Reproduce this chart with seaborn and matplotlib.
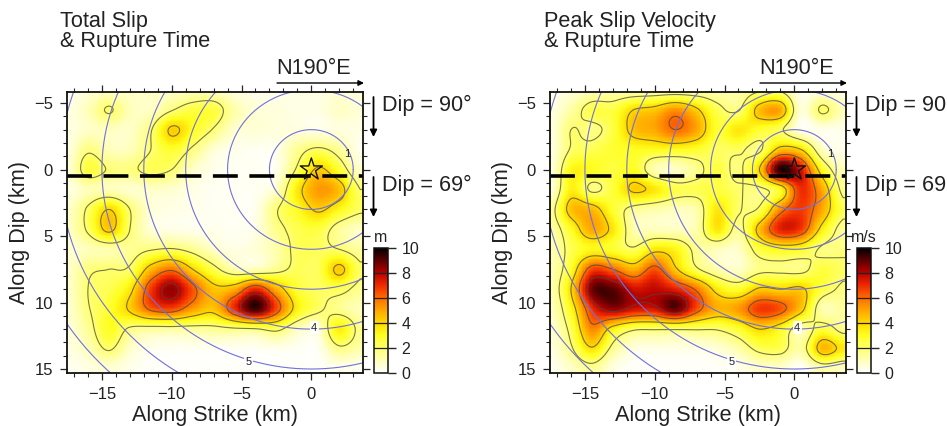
import numpy as np
import matplotlib
matplotlib.use('Agg')
import matplotlib.pyplot as plt
import seaborn as sns

# grid knots (km)
strike_km = [-17.5, -16, -14.5, -13, -11.5, -10, -8.5, -7, -5.5, -4, -2.5, -1, 0.5, 2, 3.5]
dip_km = [-6, -4.5, -3, -1.5, 0, 1.5, 3, 4.5, 6, 7.5, 9, 10.5, 12, 13.5, 15]

total_slip = [
    [0.3, 0.6, 0.8, 0.8, 0.8, 0.8, 0.9, 1.0, 0.5, 0.3, 0.3, 0.4, 0.4, 0.6, 0.5],
    [0.4, 1.0, 2.1, 1.0, 0.9, 1.9, 2.6, 2.6, 1.2, 0.6, 0.5, 0.4, 0.4, 0.8, 0.6],
    [0.4, 0.8, 0.9, 0.8, 1.9, 4.2, 3.0, 1.9, 0.7, 0.6, 0.5, 0.5, 0.4, 0.5, 0.4],
    [0.4, 1.8, 1.0, 1.0, 2.0, 2.8, 1.8, 0.6, 0.3, 0.2, 0.3, 1.5, 2.2, 1.5, 0.3],
    [0.5, 2.6, 1.9, 1.8, 2.3, 2.0, 0.8, 0.3, 0.2, 0.2, 0.3, 2.2, 4.2, 2.8, 0.8],
    [0.4, 1.0, 1.0, 0.7, 0.8, 0.7, 0.4, 0.2, 0.2, 0.2, 0.8, 3.5, 5.2, 4.6, 2.0],
    [0.7, 2.2, 4.0, 2.0, 0.6, 0.4, 0.3, 0.2, 0.2, 0.3, 1.9, 3.0, 4.2, 3.2, 2.2],
    [0.8, 2.2, 4.3, 2.0, 0.6, 0.4, 0.3, 0.3, 0.2, 0.4, 1.6, 2.4, 2.6, 1.5, 0.8],
    [0.6, 1.0, 1.2, 1.5, 1.9, 2.1, 1.6, 0.8, 0.4, 0.6, 1.2, 2.3, 2.3, 2.0, 1.4],
    [0.7, 1.8, 2.0, 2.2, 4.6, 5.8, 4.0, 2.4, 1.2, 1.0, 1.6, 2.3, 2.3, 4.3, 2.2],
    [0.7, 2.0, 2.4, 3.6, 6.8, 8.4, 6.4, 4.4, 4.8, 7.0, 4.8, 2.8, 2.2, 2.4, 1.6],
    [0.6, 1.9, 2.8, 4.2, 6.2, 6.6, 5.2, 4.4, 7.0, 9.4, 6.6, 3.4, 2.2, 1.6, 1.0],
    [0.5, 1.5, 3.0, 1.8, 1.5, 1.5, 1.5, 1.6, 1.8, 1.9, 2.3, 1.0, 0.7, 3.4, 1.6],
    [0.4, 1.0, 2.1, 0.8, 0.3, 0.2, 0.2, 0.2, 0.2, 0.2, 0.3, 0.2, 0.2, 1.7, 1.2],
    [0.2, 0.4, 0.6, 0.3, 0.1, 0.1, 0.1, 0.1, 0.1, 0.1, 0.1, 0.1, 0.1, 0.3, 0.2],
]

peak_velocity = [
    [0.3, 0.6, 1.0, 1.1, 1.1, 1.2, 1.2, 1.2, 1.1, 1.2, 1.8, 1.8, 0.3, 0.4, 0.4],
    [0.4, 1.3, 2.5, 2.6, 4.0, 4.4, 5.4, 4.2, 2.4, 1.9, 4.5, 5.0, 0.6, 2.2, 1.0],
    [0.4, 2.0, 1.7, 2.6, 4.5, 5.0, 6.0, 5.0, 2.8, 3.6, 2.8, 2.2, 0.4, 0.3, 0.3],
    [0.4, 2.1, 2.4, 2.8, 3.0, 3.0, 3.0, 2.8, 2.2, 2.2, 1.8, 4.5, 4.0, 1.0, 0.3],
    [0.4, 3.2, 3.0, 2.6, 3.0, 1.1, 0.8, 1.6, 2.6, 1.8, 4.0, 9.6, 7.6, 3.2, 1.0],
    [0.5, 3.4, 1.8, 2.7, 4.2, 3.6, 2.5, 2.4, 2.6, 2.1, 1.8, 3.0, 7.0, 5.0, 1.6],
    [1.4, 4.5, 4.6, 2.8, 1.6, 1.2, 1.0, 1.2, 3.6, 2.1, 2.2, 5.5, 6.8, 5.0, 2.4],
    [1.2, 3.0, 5.0, 3.6, 1.2, 1.0, 0.9, 1.2, 3.6, 1.6, 4.5, 7.2, 6.8, 3.5, 1.5],
    [1.0, 2.4, 3.2, 2.8, 2.2, 3.6, 3.2, 1.6, 1.0, 0.8, 2.6, 3.2, 3.0, 1.8, 1.8],
    [1.0, 3.0, 6.6, 6.0, 4.8, 6.4, 4.2, 2.2, 1.2, 0.8, 1.7, 1.8, 1.7, 2.6, 2.2],
    [1.0, 4.0, 8.8, 9.0, 7.6, 7.8, 7.2, 5.8, 3.5, 2.8, 4.2, 4.0, 4.2, 2.6, 1.8],
    [0.8, 3.2, 7.0, 8.4, 7.6, 7.6, 9.0, 6.5, 4.8, 5.2, 6.8, 6.4, 4.4, 1.2, 1.4],
    [0.6, 2.4, 5.6, 3.4, 2.2, 2.1, 2.1, 2.1, 2.1, 2.8, 4.0, 3.2, 1.2, 2.6, 1.6],
    [0.4, 1.8, 3.8, 1.6, 0.5, 0.4, 0.4, 0.4, 0.6, 1.2, 2.3, 2.4, 1.4, 4.6, 3.6],
    [0.2, 0.8, 1.5, 0.4, 0.1, 0.1, 0.1, 0.1, 0.1, 0.3, 0.7, 0.7, 0.1, 1.2, 0.9],
]

# rupture front: time (s) and radius around the hypocentre (km)
rupture_time = [1, 2, 3, 4, 5, 6, 7]
rupture_radius = [3, 6, 9, 12, 15, 18, 21]
labelled_fronts = {1: (2.6, -1.2), 4: (0.2, 11.9), 5: (-4.5, 14.5)}

hypocentre = (0, 0)
dip_change_km = 0.5
color_ticks = [0, 2, 4, 6, 8, 10]
contour_levels = [2, 4, 6, 8]
heat_colors = ['#ffffff', '#ffffb8', '#ffff70', '#ffff20', '#ffd800', '#ffa800',
               '#ff6c00', '#f02c00', '#b80000', '#600000', '#000000']

W, H = 947, 426
xlim = (-17.5, 3.7)
ylim = (15.3, -5.83)

sns.set_theme(style='ticks')
plt.rcParams['font.family'] = ['Liberation Sans', 'DejaVu Sans']
plt.rcParams['text.color'] = '#222222'
plt.rcParams['axes.labelcolor'] = '#222222'
plt.rcParams['xtick.labelcolor'] = '#222222'
plt.rcParams['ytick.labelcolor'] = '#222222'
plt.rcParams['axes.unicode_minus'] = True

heat_cmap = sns.blend_palette(heat_colors, as_cmap=True)


def cubic_axis0(vals, pos):
    # Catmull-Rom along the first axis, only so the surface shades smoothly
    n = vals.shape[0]
    i = np.clip(np.floor(pos).astype(int), 0, n - 2)
    t = (pos - i)[:, None]
    p0, p1 = vals[np.maximum(i - 1, 0)], vals[i]
    p2, p3 = vals[i + 1], vals[np.minimum(i + 2, n - 1)]
    return 0.5 * (2 * p1 + (p2 - p0) * t + (2 * p0 - 5 * p1 + 4 * p2 - p3) * t ** 2
                  + (3 * p1 - p0 - 3 * p2 + p3) * t ** 3)


def shade_surface(grid, fx, fy):
    vals = np.array(grid, dtype=float)
    px = np.interp(fx, strike_km, np.arange(len(strike_km)))
    py = np.interp(fy, dip_km, np.arange(len(dip_km)))
    out = cubic_axis0(vals, py)
    out = cubic_axis0(out.T, px).T
    return np.clip(out, 0, 10)


def px_axes(fig, left, top, right, bottom):
    return fig.add_axes([left / W, 1 - bottom / H, (right - left) / W, (bottom - top) / H])


def down_arrow(fig, x, y0, y1):
    fig.add_artist(matplotlib.patches.FancyArrowPatch(
        (x / W, 1 - y0 / H), (x / W, 1 - y1 / H), transform=fig.transFigure,
        arrowstyle='-|>', mutation_scale=10, lw=1.3, color='black', shrinkA=0, shrinkB=0))


def draw_panel(fig, grid, title, unit, left, right, title_x, cbar_left):
    top, bottom = 92, 373
    ax_map = px_axes(fig, left, top, right, bottom)
    cax = px_axes(fig, cbar_left, 248, cbar_left + 13.5, bottom)

    # fine grid centres, same extent as the axes
    fx = np.linspace(xlim[0], xlim[1], 213)
    fy = np.linspace(ylim[1], ylim[0], 212)
    surface = shade_surface(grid, fx, fy)
    sns.heatmap(surface, ax=ax_map, cmap=heat_cmap, vmin=0, vmax=10, cbar_ax=cax,
                xticklabels=False, yticklabels=False, cbar_kws={'ticks': color_ticks})
    ax_map.tick_params(left=False, bottom=False)

    cax.tick_params(length=6, width=1, labelsize=11.5, pad=4)
    for level in contour_levels:
        cax.axhline(level, color='#222222', lw=0.9)
    cbar = ax_map.collections[0].colorbar
    cbar.outline.set_visible(True)
    cbar.outline.set_edgecolor('#111111')
    cbar.outline.set_linewidth(1.1)
    fig.text((cbar_left + 6.5) / W, 1 - 237 / H, unit, fontsize=11.5, va='center', ha='center')

    # overlay with the real km axes
    ax = px_axes(fig, left, top, right, bottom)
    ax.patch.set_alpha(0)
    ax.contour(fx, fy, surface, levels=contour_levels, colors='#4a4a3a', linewidths=0.8, alpha=0.75)

    angle = np.deg2rad(np.arange(0, 361, 2))
    for t, r in zip(rupture_time, rupture_radius):
        sns.lineplot(x=hypocentre[0] + r * np.cos(angle), y=hypocentre[1] + r * np.sin(angle),
                     sort=False, estimator=None, color='#7070e0', lw=0.8, ax=ax)
        if t in labelled_fronts:
            lx, ly = labelled_fronts[t]
            ax.text(lx, ly, str(t), fontsize=8, ha='center', va='center',
                    bbox=dict(fc='white', ec='none', pad=1, alpha=0.9 if t != 1 else 0))

    ax.axhline(dip_change_km, color='black', lw=2.6, dashes=(6.9, 3.2), dash_capstyle='butt')
    sns.scatterplot(x=[hypocentre[0]], y=[hypocentre[1]], marker='*', s=280,
                    facecolor='none', edgecolor='#111111', linewidth=1.0, ax=ax, legend=False, zorder=5)

    ax.set_xlim(*xlim)
    ax.set_ylim(*ylim)
    ax.set_xticks([-15, -10, -5, 0])
    ax.set_yticks([-5, 0, 5, 10, 15])
    ax.set_xticks(np.arange(-17, 4), minor=True)
    ax.set_yticks(np.arange(-5, 16), minor=True)
    ax.tick_params(which='major', length=5, width=0.9, labelsize=12, top=True, right=True, pad=5)
    ax.tick_params(which='minor', length=3, width=0.8, top=True, right=True)
    for spine in ax.spines.values():
        spine.set_linewidth(1.3)
        spine.set_color('#111111')
    ax.set_xlabel('Along Strike (km)', fontsize=15.6, labelpad=2)
    ax.set_ylabel('Along Dip (km)', fontsize=15.6, labelpad=3)

    fig.text(title_x / W, 1 - 22 / H, title, fontsize=15.6, va='center')
    fig.text(title_x / W, 1 - 42 / H, '& Rupture Time', fontsize=15.6, va='center')

    fig.text((right - 49) / W, 1 - 69 / H, 'N190°E', fontsize=15.6, ha='center', va='center')
    fig.add_artist(matplotlib.patches.FancyArrowPatch(
        ((right - 86) / W, 1 - 83 / H), ((right + 1) / W, 1 - 83 / H), transform=fig.transFigure,
        arrowstyle='-|>', mutation_scale=8, lw=1.0, color='black', shrinkA=0, shrinkB=0))

    down_arrow(fig, right + 10.5, 97, 137)
    down_arrow(fig, right + 10.5, 177, 217)
    fig.text((right + 19) / W, 1 - 105 / H, 'Dip = 90°', fontsize=15.6, va='center')
    fig.text((right + 19) / W, 1 - 185 / H, 'Dip = 69°', fontsize=15.6, va='center')


fig = plt.figure(figsize=(W / 100, H / 100), dpi=100)
draw_panel(fig, total_slip, 'Total Slip', 'm', 67, 363, 60, 374)
draw_panel(fig, peak_velocity, 'Peak Slip Velocity', 'm/s', 550, 846, 543.5, 857)
fig.savefig('out.png', dpi=100)
